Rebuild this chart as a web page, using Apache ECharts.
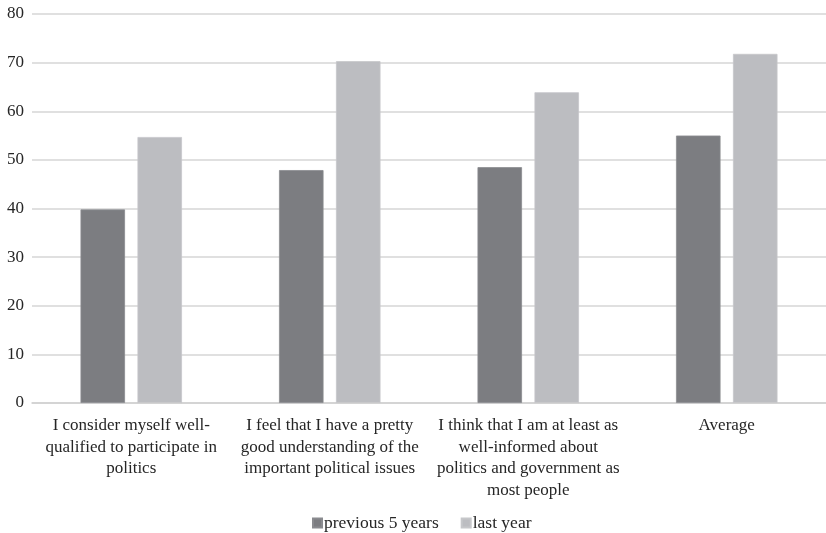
<!DOCTYPE html>
<html>
<head>
<meta charset="utf-8">
<script src="https://cdn.jsdelivr.net/npm/echarts@6/dist/echarts.min.js"></script>
<style>
  html, body { margin: 0; padding: 0; background: #ffffff; }
  #chart { width: 826px; height: 533px; }
</style>
</head>
<body>
<div id="chart"></div>
<script>
// Survey statements (category axis), wrapped as printed
const categories = [
  'I consider myself well-\nqualified to participate in\npolitics',
  'I feel that I have a pretty\ngood understanding of the\nimportant political issues',
  'I think that I am at least as\nwell-informed about\npolitics and government as\nmost people',
  'Average'
];
const seriesNames = ['previous 5 years', 'last year'];
const previous5Years = [39.8, 47.9, 48.5, 55.0];
const lastYear = [54.7, 70.3, 63.9, 71.8];
const yTicks = { min: 0, max: 80, interval: 10 };

const FONT = '"Liberation Serif", "DejaVu Serif", serif';
const TEXT = '#262626';

const chart = echarts.init(document.getElementById('chart'), null, { renderer: 'canvas' });
chart.setOption({
  backgroundColor: '#ffffff',
  animation: false,
  textStyle: { fontFamily: FONT },
  grid: { left: 32, right: -5, top: 14, bottom: 130, containLabel: false },
  legend: {
    top: 509,
    left: 307,
    itemWidth: 9,
    itemHeight: 9,
    itemGap: 22,
    icon: 'rect',
    textStyle: { fontFamily: FONT, fontSize: 17.5, color: TEXT, padding: [0, 0, 0, -3] },
    data: seriesNames
  },
  xAxis: {
    type: 'category',
    data: categories,
    axisTick: { show: false },
    axisLine: { show: true, lineStyle: { color: '#d0d0d0', width: 1.5 } },
    axisLabel: {
      interval: 0,
      margin: 12,
      fontFamily: FONT,
      fontSize: 17,
      lineHeight: 21.5,
      color: TEXT,
      align: 'center'
    }
  },
  yAxis: {
    type: 'value',
    min: yTicks.min,
    max: yTicks.max,
    interval: yTicks.interval,
    axisLine: { show: false },
    axisTick: { show: false },
    axisLabel: { margin: 8, fontFamily: FONT, fontSize: 17, color: TEXT },
    splitLine: { lineStyle: { color: '#d6d6d6', width: 1.5 } }
  },
  series: [
    {
      name: seriesNames[0],
      type: 'bar',
      data: previous5Years,
      barWidth: 44.5,
      barGap: '28%',
      itemStyle: { color: '#7c7d81', borderColor: '#8a8b8f', borderWidth: 0.8 }
    },
    {
      name: seriesNames[1],
      type: 'bar',
      data: lastYear,
      barWidth: 44.5,
      barGap: '28%',
      itemStyle: { color: '#bcbdc1', borderColor: '#c6c7ca', borderWidth: 0.8 }
    }
  ]
});
</script>
</body>
</html>
